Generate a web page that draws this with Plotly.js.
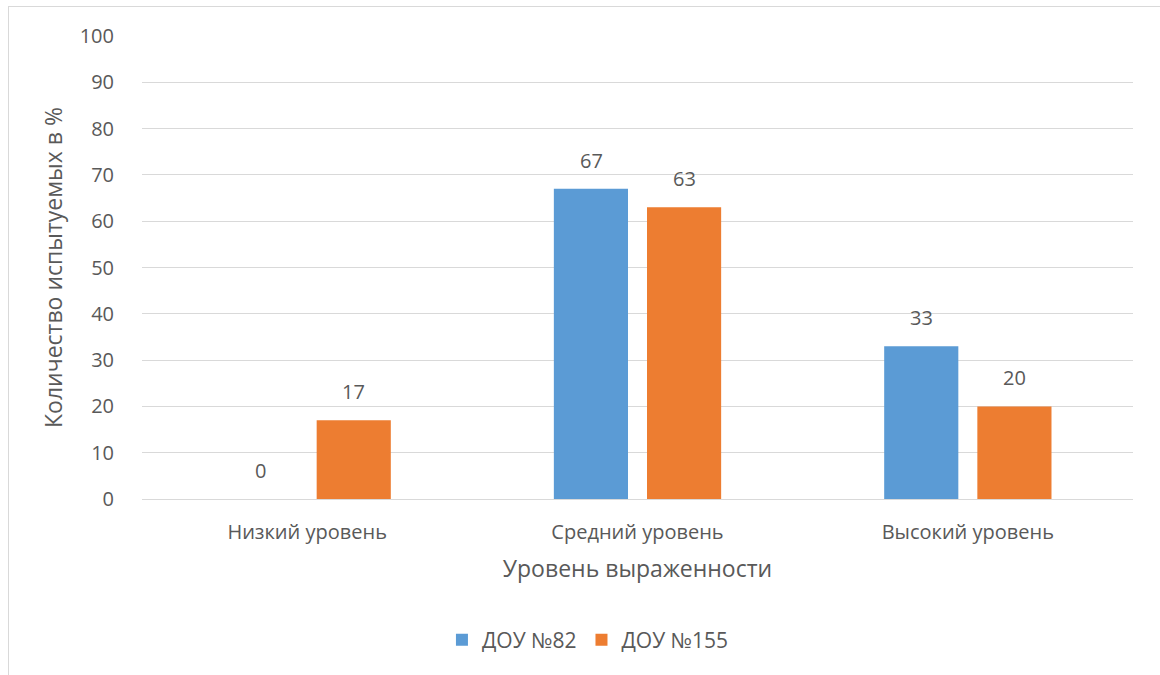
<!DOCTYPE html>
<html>
<head>
<meta charset="utf-8">
<script src="https://cdn.plot.ly/plotly-3.0.1.min.js"></script>
<style>
html,body{margin:0;padding:0;background:#fff;}
#wrap{position:relative;width:1160px;height:675px;overflow:hidden;}
#chart{position:absolute;left:0;top:0;width:1160px;height:675px;}
#frame{position:absolute;left:8px;top:6px;width:1200px;height:700px;border-top:1px solid #d9d9d9;border-left:1px solid #d9d9d9;pointer-events:none;}
</style>
</head>
<body>
<div id="wrap"><div id="chart"></div><div id="frame"></div></div>
<script>
const categories = ["Низкий уровень", "Средний уровень", "Высокий уровень"];
const seriesNames = ["ДОУ №82", "ДОУ №155"];
const dou82 = [0, 67, 33];
const dou155 = [17, 63, 20];
const yTicks = [0, 10, 20, 30, 40, 50, 60, 70, 80, 90, 100];

const font = "'Open Sans', 'Noto Sans', sans-serif";
const grey = "#595959";
const colors = ["#5B9BD5", "#ED7D31"];
const seriesValues = [dou82, dou155];

const traces = seriesValues.map((vals, i) => ({
  type: "bar", name: seriesNames[i], x: categories, y: vals,
  marker: {color: colors[i]}, hoverinfo: "none"
}));

// data labels placed via axis scales (category + value), shifted to the bar slot
const slotShift = 46.5;
const annotations = [];
seriesValues.forEach((vals, i) => {
  vals.forEach((v, j) => {
    annotations.push({
      x: categories[j], y: v, xref: "x", yref: "y",
      text: String(v), showarrow: false,
      xanchor: "center", yanchor: "bottom",
      xshift: (i === 0 ? -slotShift : slotShift), yshift: 13,
      font: {family: font, size: 20, color: grey}
    });
  });
});

const layout = {
  width: 1160, height: 675,
  margin: {l: 142, r: 27, t: 36, b: 176},
  paper_bgcolor: "#fff", plot_bgcolor: "#fff",
  font: {family: font, color: grey, size: 20},
  barmode: "group", bargap: 0.436, bargroupgap: 0.204,
  xaxis: {
    type: "category", showgrid: false, showline: false, zeroline: false,
    ticks: "outside", ticklen: 15, tickcolor: "rgba(0,0,0,0)",
    tickfont: {family: font, size: 20, color: grey},
    title: {text: "Уровень выраженности", font: {family: font, size: 23, color: grey}, standoff: 16}
  },
  yaxis: {
    range: [0, 100], tickvals: yTicks, ticktext: yTicks.map(String),
    showgrid: true, gridcolor: "#d9d9d9", gridwidth: 1,
    zeroline: true, zerolinecolor: "#d9d9d9", zerolinewidth: 1,
    showline: false, ticks: "outside", ticklen: 23, tickcolor: "rgba(0,0,0,0)",
    tickfont: {family: font, size: 20, color: grey},
    title: {text: "Количество испытуемых в %", font: {family: font, size: 23, color: grey}, standoff: 10}
  },
  legend: {
    orientation: "h", x: 0.45, xanchor: "center", y: -0.305, yanchor: "middle",
    font: {family: font, size: 21, color: grey}, itemwidth: 30
  },
  annotations: annotations,
  showlegend: true
};

Plotly.newPlot("chart", traces, layout, {staticPlot: true, displayModeBar: false});
</script>
</body>
</html>
